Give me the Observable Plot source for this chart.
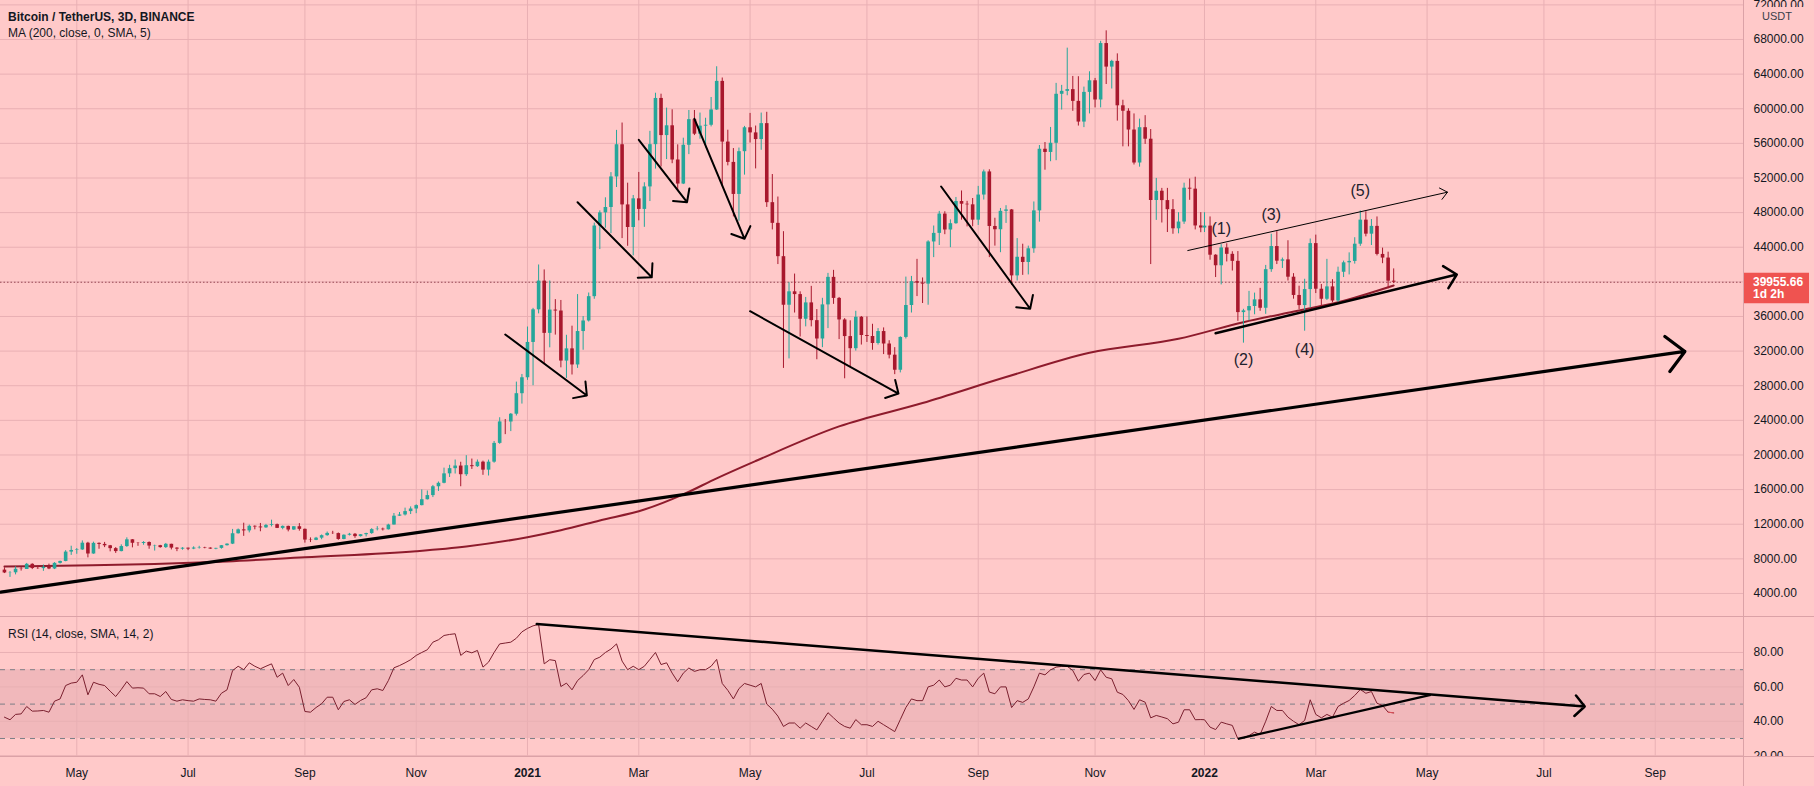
<!DOCTYPE html>
<html>
<head>
<meta charset="utf-8">
<script src="https://cdn.jsdelivr.net/npm/d3@7"></script>
<script src="https://cdn.jsdelivr.net/npm/@observablehq/plot@0.6"></script>
<style>
  html, body { margin: 0; padding: 0; background: #ffc9c9; }
  #wrap { position: relative; width: 1814px; height: 786px; overflow: hidden; background: #ffc9c9; }
  #wrap svg { display: block; }
  #overlay { position: absolute; left: 0; top: 0; }
</style>
</head>
<body>
<div id="wrap"></div>
<script>
// ================= DATA =================
// 3D candles (Binance BTCUSDT), bars anchored on Jan 1 of each year, first bar 2020-03-25
const opens = [
  6700,6370,6390,6800,6770,7370,6890,6870,7030,6830,
  7480,7700,8780,8970,9030,9810,8560,9790,9670,9510,
  9180,8840,9420,10200,9800,9780,9890,9480,9520,9300,
  9680,9240,9120,9230,9130,9250,9290,9240,9130,9210,
  9520,9700,10900,11350,11230,11760,11680,11580,11860,11950,
  11520,11750,11330,11710,11410,10170,10130,10390,10680,10940,
  10920,10240,10730,10840,10570,10790,10920,11380,11430,11360,
  11910,12930,13070,13460,13760,14150,14830,15310,16330,16730,
  17820,18420,18720,17720,18760,18650,19170,18250,19170,21340,
  23820,23810,24710,27080,28920,33000,36770,40090,34050,36740,
  36630,30850,32260,30400,34260,35480,38290,46450,47970,48590,
  52120,55840,48890,46280,49590,48370,50970,55850,61190,56900,
  58030,54080,51300,55780,58740,57060,57990,58090,59860,63160,
  56150,53800,50100,55040,57800,57210,56440,58280,49150,46760,
  42910,37300,38850,38530,35680,37570,35520,33400,37340,40520,
  38090,35600,33680,32280,35910,33800,33690,32880,34260,32820,
  31530,29790,33580,37270,40020,39850,39740,44610,45600,47830,
  45990,46720,49280,48970,48900,47130,50030,52700,46400,46020,
  48150,48310,40690,42840,42240,43820,48200,55320,54950,56010,
  61670,62010,62210,60850,58460,61890,63230,61010,67530,64810,
  65470,60340,59710,57540,53730,57810,56480,49400,50470,49390,
  48340,46130,46910,50820,50710,46460,46220,46440,43080,41860,
  43920,43180,42370,36450,36650,37150,37920,36950,41410,44080,
  42390,42540,40540,38430,37260,39110,44420,39150,37990,39420,
  37790,41110,42200,42360,44350,47130,45510,46410,43170,42750,
  40080
];
const highs = [
  6970,6520,7080,7000,7470,7430,7200,7290,7390,7560,
  7740,8950,9460,9190,10070,9910,9930,9840,9900,9550,
  9300,9620,10430,10230,9880,9990,9960,9580,9560,9780,
  9690,9290,9290,9250,9390,9450,9340,9280,9220,9540,
  9740,11400,11450,12120,11900,11810,12090,11980,12470,12020,
  11800,11780,11720,12070,11450,10420,10480,10760,11100,11180,
  10990,10770,10940,10930,10800,10960,11490,11720,11550,12000,
  13240,13350,13860,14000,14240,15970,15840,16480,16880,18480,
  18810,19420,19160,19920,19530,19420,19290,19410,21560,24300,
  24100,24790,28420,29300,34780,36940,41950,41380,40100,37950,
  37850,33830,34880,38530,35990,38710,46790,48200,49710,52620,
  57500,58350,51400,49980,52640,51450,57390,61790,61680,60070,
  59880,55830,56600,59800,59800,59500,58900,61300,64850,63550,
  57520,55400,55460,57960,59460,58000,59500,59590,52400,49800,
  45800,39900,40900,38850,38200,39480,36800,38100,40980,41330,
  38200,35750,35500,36600,36000,35950,35100,34600,34680,33200,
  32400,33650,40550,40630,42600,40450,44750,46450,48140,48100,
  47160,49750,50500,49300,49630,51030,52920,52950,47350,48480,
  48800,48360,45000,44350,44130,49230,55750,56100,57840,62930,
  62700,67000,63730,63700,62500,64270,63500,67790,69000,65600,
  66340,60980,60000,59400,58800,59200,57600,51950,50800,50800,
  49500,47990,51400,51880,52090,48000,47990,47500,43140,44300,
  44400,43480,43500,36830,38900,38700,39250,41900,45500,45800,
  42750,44750,40950,39500,40300,44950,45400,39700,42600,40250,
  41700,42400,43350,45100,48190,48100,47200,47500,43900,43430,
  41500
];
const lows = [
  6300,5860,6150,6590,6770,6760,6780,6560,6750,6760,
  7400,7660,8400,8530,8980,8110,8530,9110,9300,8810,
  8630,8810,9330,9270,9450,9570,9110,8900,9230,9200,
  9030,8830,9000,8950,9060,9130,9160,9090,9050,9120,
  9480,9650,10860,10600,11000,11350,11130,11520,11690,11500,
  11360,11120,11280,11200,9820,9880,10100,10210,10610,10820,
  10140,10200,10640,10370,10520,10530,10830,11230,11220,11330,
  11900,12900,12950,13120,13220,14120,14800,15080,15790,16670,
  17400,17800,16330,17520,18330,18560,17650,17570,19050,21230,
  22350,22700,24500,25880,28620,28000,36300,30420,32380,33850,
  30070,28850,29240,30000,32100,35360,37990,43730,46200,45570,
  50900,45000,44110,43000,47050,46300,49280,53030,53270,54130,
  53650,50430,51240,54700,56900,56480,55470,57900,59800,51000,
  53400,47500,47000,52330,56040,53050,55200,48600,46000,42000,
  30000,31100,36400,33630,34800,34800,31000,32400,34600,37400,
  33330,28800,30150,32000,32700,33000,32100,32700,31600,31100,
  29280,29480,33400,36400,38300,37500,37300,42800,44200,45450,
  43950,46650,47130,46350,46370,46520,49450,42800,44130,43370,
  46750,39600,40100,40750,40800,43300,46900,52900,53880,54000,
  59850,61500,59700,58000,57820,59400,60100,60100,62800,62280,
  58570,55600,55600,53500,53250,55880,42000,47100,46800,45700,
  45500,45550,46640,49420,46000,45680,45700,42500,40500,39650,
  42300,41250,35440,32920,35500,36200,36600,36250,41100,42000,
  41550,40100,38000,36800,34300,37000,38650,37150,37850,37580,
  37600,40500,40800,42050,44100,45200,44200,43000,42100,39200,
  39800
];
const closes = [
  6370,6390,6800,6770,7370,6890,6870,7030,6830,7480,
  7700,8780,8970,9030,9810,8560,9790,9670,9510,9180,
  8840,9420,10200,9800,9780,9890,9480,9520,9300,9680,
  9240,9120,9230,9130,9250,9290,9240,9130,9210,9520,
  9700,10900,11350,11230,11760,11680,11580,11860,11950,11520,
  11750,11330,11710,11410,10170,10130,10390,10680,10940,10920,
  10240,10730,10840,10570,10790,10920,11380,11430,11360,11910,
  12930,13070,13460,13760,14150,14830,15310,16330,16730,17820,
  18420,18720,17720,18760,18650,19170,18250,19170,21340,23820,
  23810,24710,27080,28920,33000,36770,40090,34050,36740,36630,
  30850,32260,30400,34260,35480,38290,46450,47970,48590,52120,
  55840,48890,46280,49590,48370,50970,55850,61190,56900,58030,
  54080,51300,55780,58740,57060,57990,58090,59860,63160,56150,
  53800,50100,55040,57800,57210,56440,58280,49150,46760,42910,
  37300,38850,38530,35680,37570,35520,33400,37340,40520,38090,
  35600,33680,32280,35910,33800,33690,32880,34260,32820,31530,
  29790,33580,37270,40020,39850,39740,44610,45600,47830,45990,
  46720,49280,48970,48900,47130,50030,52700,46400,46020,48150,
  48310,40690,42840,42240,43820,48200,55320,54950,56010,61670,
  62010,62210,60850,58460,61890,63230,61010,67530,64810,65470,
  60340,59710,57540,53730,57810,56480,49400,50470,49390,48340,
  46130,46910,50820,50710,46460,46220,46440,43080,41860,43920,
  43180,42370,36450,36650,37150,37920,36950,41410,44080,42390,
  42540,40540,38430,37260,39110,44420,39150,37990,39420,37790,
  41110,42200,42360,44350,47130,45510,46410,43170,42750,40080,
  39955.66
];
// RSI(14) read per bar
const rsiValues = [
  42.4,40.9,44,44.3,48.6,45.9,46,46.3,45.3,51.7,
  53,60.8,62.2,62.7,67,55.4,62.7,61.5,60.8,57.5,
  54.4,58.5,63.1,59.3,59.5,59.3,56,56,54.4,57.3,
  52.7,51.7,52.5,52,51.7,53,52.7,52.5,51.7,56.3,
  58.3,69.5,72,70,74,72,70.5,72,73.4,65.6,
  68,60.8,64.3,59.8,45.7,45.3,48,50.2,54,54,
  46.7,51.5,52.5,49.8,52.1,53.7,58.3,58.9,57.9,63.7,
  71.1,72.4,74,75.8,78.3,80,81.6,86,87.4,89.9,
  90.5,90.9,78.3,80.8,79.8,81.2,71.5,74.4,80,85,
  85.5,86,88.3,92,94,95.5,96.3,73.4,75.8,75.3,
  60.2,62.2,58.3,63.7,66.6,70,75.9,77.3,80,82,
  85,75,70,72,70,72,76,80,73,74,
  68,63,68,71,69,70,70,72,76,62,
  58,53,59,62,61,60,62,50,47,43,
  37,39,39,36,39,37,35,40,45,42,
  39,37,36,41,38,38,37,40,38,36,
  34,41,48,53,52,52,60,61,64,60,
  61,65,64,64,60,65,68,57,56,60,
  60,48,52,51,53,60,68,67,69.9,71.5,
  71.9,72,69.5,63.3,67.2,68,63.7,69.9,65.6,64.7,
  56.9,55.6,52,46.9,52.5,51.1,42,43.4,42.5,41.5,
  38.5,39.5,46.7,46.7,40.9,41,40.9,36.6,35.2,39.5,
  38.5,37.6,29.8,30.5,31.7,33.7,32.3,40,48.6,46.3,
  46.3,42.4,40,38,40.5,52.5,44,42,44,42.4,
  48.6,50.5,52.1,55,58.5,56.3,57.3,50.5,49.2,45.3,
  44.9
];
// MA(200) read at selected bars (bar index -> value)
const maBars = [0,13,27,40,54,74,83,94,100,107,115,122,128,135,150,165,180,195,211,223,233,240,250];
const maValues = [7117,7232,7400,7700,8190,8884,9430,10500,11300,12430,13700,15450,17300,19300,23300,26000,29000,31800,33420,35340,36690,37650,39580];

const lastPrice = 39955.66;
const countdown = "1d 2h";
const priceTicks = [4000,8000,12000,16000,20000,24000,28000,32000,36000,40000,44000,48000,52000,56000,60000,64000,68000,72000];
const rsiTicks = [80,60,40,20];
const rsiLevels = [70,50,30];
const rsiBand = [{lo: 30, hi: 70}];
const timeTickDates = ["2020-05-03","2020-07-02","2020-09-03","2020-11-02","2021-01-01","2021-03-02","2021-05-01","2021-07-03","2021-09-01","2021-11-03","2022-01-01","2022-03-02","2022-05-01","2022-07-03","2022-09-01"];
const timeTickLabels = ["May","Jul","Sep","Nov","2021","Mar","May","Jul","Sep","Nov","2022","Mar","May","Jul","Sep"];

// drawn annotations: [start date, start value, end date, end value]
const swingArrows = [
  ["2020-12-20",33920,"2021-02-02",26870],
  ["2021-01-28",49200,"2021-03-09",40540],
  ["2021-03-02",56410,"2021-03-28",49200],
  ["2021-04-01",58840,"2021-04-28",44975],
  ["2021-05-01",36610,"2021-07-20",27100],
  ["2021-08-12",51020,"2021-09-29",36890]
];
const supportLine = [["2020-03-23",4150,"2022-09-17",31960]];
const channelTop = [["2021-12-23",43620,"2022-05-12",50360]];
const channelBottom = [["2022-01-07",34070,"2022-05-17",40850]];
const rsiDownLine = [["2021-01-06",96.5,"2022-07-25",48.6]];
const rsiUpLine = [["2022-01-19",29.8,"2022-05-03",55.4]];
const waveLabels = ["(1)","(2)","(3)","(4)","(5)"];
const waveDates = ["2022-01-10","2022-01-22","2022-02-06","2022-02-24","2022-03-26"];
const wavePrices = [46130,31000,47780,32150,50470];

// ================= STYLE =================
const W = 1814;
const AXIS_W = 71;
const BG = "#ffc9c9", GRID = "#e9b0b4", BORDER = "#dba2a7", BAND = "#f1b8bb";
const UP = "#26a69a", DOWN = "#a8182d", MA = "#8e1b2c", RSI = "#7a1f2e";
const TEXT = "#131722";
const FONT = "'Liberation Sans', Arial, sans-serif";
const xDomain = [new Date(Date.UTC(2020,2,22,21)), new Date(Date.UTC(2022,9,18,14,24))];

// bars: 3-day periods restarting on Jan 1 each year
function barDates() {
  const first = new Date(Date.UTC(2020,2,25)), last = new Date(Date.UTC(2022,3,13));
  const out = [];
  for (let yr = 2020; yr <= 2022; yr++) {
    const end = new Date(Date.UTC(yr + 1, 0, 1));
    for (let d = new Date(Date.UTC(yr, 0, 1)); d < end; d = d3.utcDay.offset(d, 3)) {
      if (d >= first && d <= last) out.push(d);
    }
  }
  return out;
}
const dates = barDates();
const candles = dates.map((d, i) => ({date: d, open: opens[i], high: highs[i], low: lows[i], close: closes[i]}));
const rsiData = dates.map((d, i) => ({date: d, v: rsiValues[i]}));
const maData = maBars.map((b, j) => ({date: dates[b], v: maValues[j]}));
const tDates = timeTickDates.map(s => new Date(s));
const seg = a => a.map(([a1, b1, a2, b2]) => ({x1: new Date(a1), y1: b1, x2: new Date(a2), y2: b2}));
const waves = waveLabels.map((t, i) => ({t, date: new Date(waveDates[i]), v: wavePrices[i]}));
const col = d => d.close >= d.open ? UP : DOWN;

const baseStyle = {background: "transparent", overflow: "hidden", fontFamily: FONT, fontSize: "12px", color: TEXT};
// Plot.arrow headLength is relative to stroke width (wing = headLength/1.5 * strokeWidth)
const head = (px, sw) => px * 1.5 / sw;

// ================= MAIN PANE =================
const main = Plot.plot({
  width: W, height: 616,
  marginLeft: 0, marginRight: AXIS_W, marginTop: 0, marginBottom: 0,
  x: {type: "utc", domain: xDomain, axis: null},
  y: {domain: [1340, 72505]},
  style: baseStyle,
  marks: [
    Plot.gridX(tDates, {stroke: GRID, strokeOpacity: 1}),
    Plot.gridY(priceTicks, {stroke: GRID, strokeOpacity: 1}),
    Plot.axisY(priceTicks, {anchor: "right", tickSize: 0, tickPadding: 10, tickFormat: d => d.toFixed(2)}),
    Plot.ruleY([lastPrice], {stroke: "#9a4a55", strokeDasharray: "1.5,2", strokeWidth: 1}),
    Plot.line(maData, {x: "date", y: "v", stroke: MA, strokeWidth: 2, curve: "monotone-x"}),
    Plot.ruleX(candles, {x: "date", y1: "low", y2: "high", stroke: col, strokeWidth: 1}),
    Plot.ruleX(candles, {x: "date", y1: "open", y2: "close", stroke: col, strokeWidth: 3.6}),
    Plot.arrow(seg(supportLine), {x1: "x1", y1: "y1", x2: "x2", y2: "y2", stroke: "#000", strokeWidth: 3.2, headAngle: 90, headLength: head(25, 3.2)}),
    Plot.arrow(seg(swingArrows), {x1: "x1", y1: "y1", x2: "x2", y2: "y2", stroke: "#000", strokeWidth: 2, headAngle: 95, headLength: head(14, 2)}),
    Plot.arrow(seg(channelTop), {x1: "x1", y1: "y1", x2: "x2", y2: "y2", stroke: "#000", strokeWidth: 1, headAngle: 80, headLength: head(9, 1)}),
    Plot.arrow(seg(channelBottom), {x1: "x1", y1: "y1", x2: "x2", y2: "y2", stroke: "#000", strokeWidth: 2.5, headAngle: 90, headLength: head(16, 2.5)}),
    Plot.text(waves, {x: "date", y: "v", text: "t", fontSize: 16, fill: "#1e222d"})
  ]
});

// ================= RSI PANE =================
const rsiPlot = Plot.plot({
  width: W, height: 140,
  marginLeft: 0, marginRight: AXIS_W, marginTop: 0, marginBottom: 0,
  x: {type: "utc", domain: xDomain, axis: null},
  y: {domain: [19.53, 100.93]},
  style: baseStyle,
  marks: [
    Plot.rect(rsiBand, {y1: "lo", y2: "hi", fill: BAND}),
    Plot.gridX(tDates, {stroke: GRID, strokeOpacity: 1}),
    Plot.gridY(rsiTicks, {stroke: GRID, strokeOpacity: 1}),
    Plot.ruleY(rsiLevels, {stroke: "#7d7f87", strokeDasharray: "5,5", strokeWidth: 1}),
    Plot.axisY(rsiTicks, {anchor: "right", tickSize: 0, tickPadding: 10, tickFormat: d => d.toFixed(2)}),
    Plot.line(rsiData, {x: "date", y: "v", stroke: RSI, strokeWidth: 1}),
    Plot.line(rsiData.slice(-2), {x: "date", y: "v", stroke: "#e0525a", strokeWidth: 1}),
    Plot.arrow(seg(rsiDownLine), {x1: "x1", y1: "y1", x2: "x2", y2: "y2", stroke: "#000", strokeWidth: 2.5, headAngle: 94, headLength: head(14, 2.5)}),
    Plot.link(seg(rsiUpLine), {x1: "x1", y1: "y1", x2: "x2", y2: "y2", stroke: "#000", strokeWidth: 2.2})
  ]
});

// ================= TIME AXIS =================
const isYear = (s) => /^\d{4}$/.test(s);
const monthIdx = timeTickLabels.map((s, i) => i).filter(i => !isYear(timeTickLabels[i]));
const yearIdx = timeTickLabels.map((s, i) => i).filter(i => isYear(timeTickLabels[i]));
const labelOf = d => timeTickLabels[tDates.findIndex(t => +t === +d)];
const timeAxis = Plot.plot({
  width: W, height: 30,
  marginLeft: 0, marginRight: AXIS_W, marginTop: 0, marginBottom: 30,
  x: {type: "utc", domain: xDomain},
  style: baseStyle,
  marks: [
    Plot.axisX(monthIdx.map(i => tDates[i]), {anchor: "bottom", tickSize: 0, tickPadding: 12, tickFormat: labelOf}),
    Plot.axisX(yearIdx.map(i => tDates[i]), {anchor: "bottom", tickSize: 0, tickPadding: 12, fontWeight: "bold", tickFormat: labelOf})
  ]
});

const wrap = document.getElementById("wrap");
wrap.appendChild(main);
wrap.appendChild(rsiPlot);
wrap.appendChild(timeAxis);

// ================= OVERLAY (legends, separators, price label) =================
const yP = main.scale("y").apply(lastPrice);
const ov = d3.create("svg").attr("id", "overlay").attr("width", W).attr("height", 786)
  .style("font-family", FONT).style("pointer-events", "none");
ov.append("line").attr("x1", 0).attr("x2", W).attr("y1", 616.5).attr("y2", 616.5).attr("stroke", BORDER);
ov.append("line").attr("x1", 0).attr("x2", W).attr("y1", 756.5).attr("y2", 756.5).attr("stroke", BORDER);
ov.append("line").attr("x1", W - AXIS_W + 0.5).attr("x2", W - AXIS_W + 0.5).attr("y1", 0).attr("y2", 786).attr("stroke", BORDER);
ov.append("rect").attr("x", W - AXIS_W + 1).attr("y", 7).attr("width", AXIS_W - 1).attr("height", 15).attr("fill", BG);
ov.append("text").attr("x", 1777).attr("y", 19.5).attr("text-anchor", "middle").attr("font-size", 11).attr("fill", "#3b3f4a").text("USDT");
ov.append("text").attr("x", 8).attr("y", 21).attr("font-size", 12).attr("font-weight", "bold").attr("fill", TEXT).text("Bitcoin / TetherUS, 3D, BINANCE");
ov.append("text").attr("x", 8).attr("y", 37).attr("font-size", 12).attr("fill", TEXT).text("MA (200, close, 0, SMA, 5)");
ov.append("text").attr("x", 8).attr("y", 638).attr("font-size", 12).attr("fill", TEXT).text("RSI (14, close, SMA, 14, 2)");
ov.append("rect").attr("x", W - AXIS_W + 1).attr("y", yP - 9).attr("width", 65).attr("height", 30.5).attr("fill", "#ef5350");
ov.append("text").attr("x", 1753).attr("y", yP + 4).attr("font-size", 12).attr("font-weight", "bold").attr("fill", "#fff").text(lastPrice.toFixed(2));
ov.append("text").attr("x", 1753).attr("y", yP + 16.5).attr("font-size", 12).attr("font-weight", "bold").attr("fill", "#fff").text(countdown);
wrap.appendChild(ov.node());
</script>
</body>
</html>
